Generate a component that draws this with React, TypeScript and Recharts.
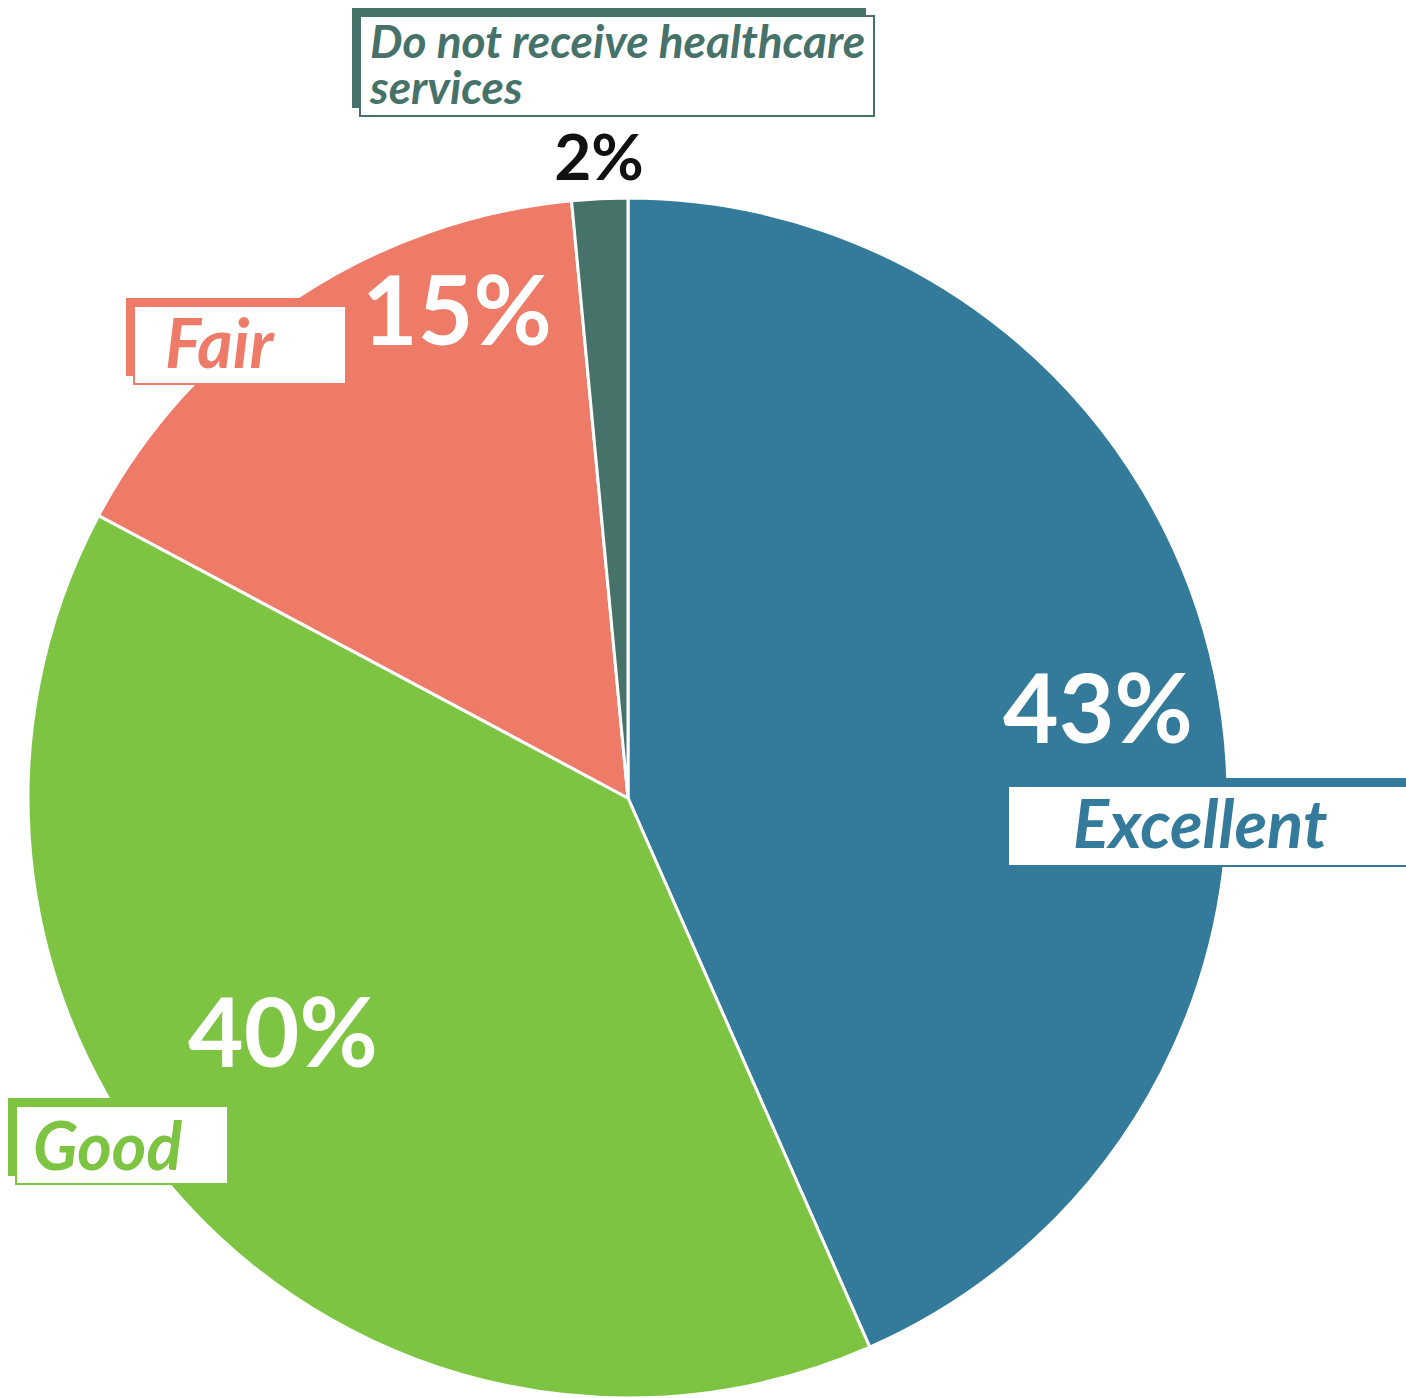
import React from "react";
import { PieChart, Pie, Cell } from "recharts";

const categories = ["Excellent", "Good", "Fair", "Do not receive healthcare services"];
const shares = [43.4, 39.4, 15.7, 1.5];
const shareLabels = ["43%", "40%", "15%", "2%"];
const colors = ["#337A9B", "#7DC443", "#EE7B67", "#46726A"];

const data = categories.map((name, i) => ({ name, value: shares[i] }));

// label layout, relative to the pie centre (pixels)
const layout = [
  { px: 470, py: -55, pSize: 96, pColor: "#FFFFFF", bx: 372, by: -20, bw: 420, bh: 80, tx: 65, ty: 62, tSize: 67, lines: ["Excellent"] },
  { px: -345, py: 269, pSize: 96, pColor: "#FFFFFF", bx: -620, by: 300, bw: 212, bh: 78, tx: 17, ty: 64, tSize: 66, lines: ["Good"] },
  { px: -171, py: -453, pSize: 96, pColor: "#FFFFFF", bx: -502, by: -500, bw: 212, bh: 78, tx: 31, ty: 62, tSize: 68, lines: ["Fair"] },
  { px: -29, py: -618, pSize: 64, pColor: "#111111", bx: -276, by: -790, bw: 514, bh: 100, tx: 10, ty: 42, tSize: 46, lines: ["Do not receive healthcare", "services"] },
];

const FONT = "Lato, 'Open Sans', sans-serif";

const renderLabel = (props: any) => {
  const { cx, cy, index } = props;
  const L = layout[index];
  const c = colors[index];
  const bx = cx + L.bx;
  const by = cy + L.by;
  return (
    <g key={`lbl-${index}`}>
      <text
        x={cx + L.px}
        y={cy + L.py}
        textAnchor="middle"
        fill={L.pColor}
        fontSize={L.pSize}
        fontWeight={700}
        fontFamily={FONT}
      >
        {shareLabels[index]}
      </text>
      <rect x={bx} y={by} width={L.bw} height={L.bh} fill={c} />
      <rect x={bx + 8} y={by + 8} width={L.bw} height={L.bh} fill="#FFFFFF" stroke={c} strokeWidth={2} />
      {L.lines.map((line, k) => (
        <text
          key={k}
          x={bx + 8 + L.tx}
          y={by + 8 + L.ty + k * 46}
          fill={c}
          fontSize={L.tSize}
          fontWeight={700}
          fontStyle="italic"
          fontFamily={FONT}
        >
          {line}
        </text>
      ))}
    </g>
  );
};

export default function App() {
  return (
    <div style={{ position: "absolute", left: 0, top: 0, width: 1406, height: 1398, background: "#FFFFFF" }}>
      <PieChart width={1406} height={1398} margin={{ top: 0, right: 0, bottom: 0, left: 0 }}>
        <Pie
          data={data}
          dataKey="value"
          nameKey="name"
          cx={628}
          cy={798}
          outerRadius={600}
          startAngle={90}
          endAngle={-270}
          stroke="#FFFFFF"
          strokeWidth={3}
          isAnimationActive={false}
          labelLine={false}
          label={renderLabel}
        >
          {data.map((d, i) => (
            <Cell key={d.name} fill={colors[i]} />
          ))}
        </Pie>
      </PieChart>
    </div>
  );
}
